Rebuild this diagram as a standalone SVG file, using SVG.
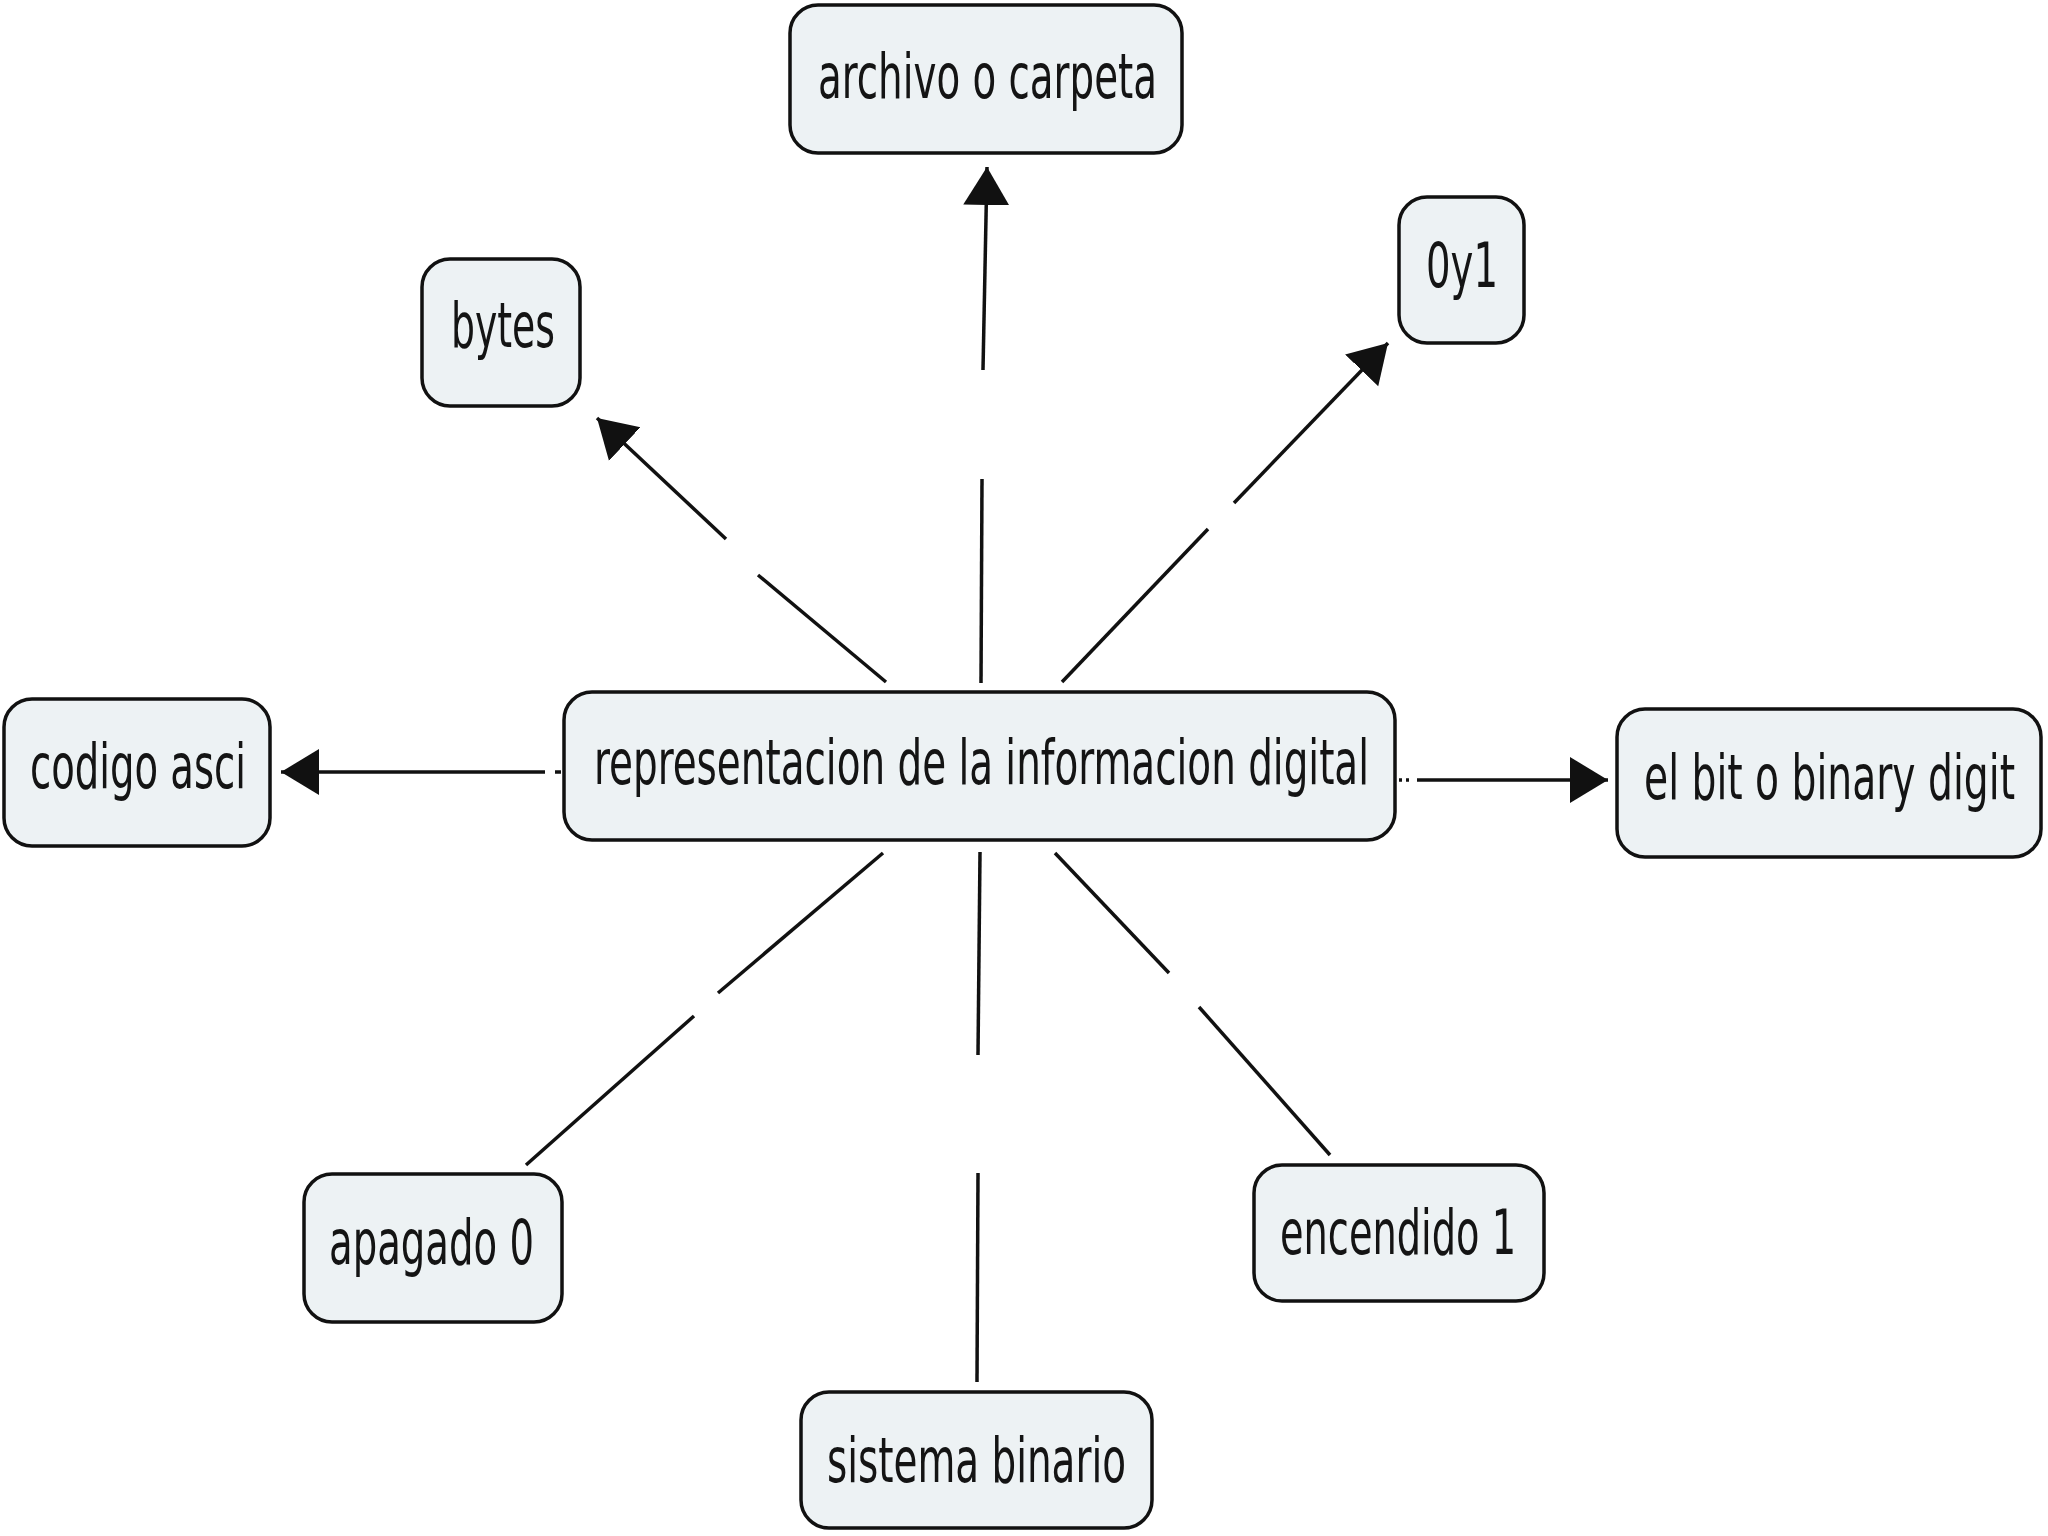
<svg xmlns="http://www.w3.org/2000/svg" width="2048" height="1536" viewBox="0 0 2048 1536">
<style>
.box{fill:#edf2f4;stroke:#111;stroke-width:3.5}
.lbl{font-family:"DejaVu Sans Condensed","DejaVu Sans",sans-serif;font-stretch:condensed;font-size:62px;fill:#141414;text-anchor:start}
.ln{stroke:#111;stroke-width:3.5;fill:none}
</style>
<defs>
<marker id="ah" markerUnits="userSpaceOnUse" markerWidth="40" markerHeight="50" viewBox="0 0 40 50" refX="38" refY="25" orient="auto">
<path d="M0,2 L38,25 L0,48 Z" fill="#111"/>
</marker>
</defs>
<rect width="2048" height="1536" fill="#fff"/>
<g id="connectors">
<path class="ln" d="M981,683 L982,479"/>
<path class="ln" d="M983,370 L987,167" marker-end="url(#ah)"/>
<path class="ln" d="M886,682 L758,575"/>
<path class="ln" d="M726,539 L597,418" marker-end="url(#ah)"/>
<path class="ln" d="M1062,682 L1208,529"/>
<path class="ln" d="M1234,503 L1388,343" marker-end="url(#ah)"/>
<path class="ln" d="M555,772 L561,772"/>
<path class="ln" d="M545,772 L281,772" marker-end="url(#ah)"/>
<path class="ln" d="M1399,780 L1402,780 M1406,780 L1409,780"/>
<path class="ln" d="M1417,780 L1608,780" marker-end="url(#ah)"/>
<path class="ln" d="M883,853 L718,993"/>
<path class="ln" d="M694,1016 L526,1165"/>
<path class="ln" d="M980,852 L978,1055"/>
<path class="ln" d="M978,1173 L977,1382"/>
<path class="ln" d="M1055,853 L1169,973"/>
<path class="ln" d="M1199,1007 L1330,1155"/>
</g>
<g id="n-center">
<rect class="box" x="564" y="692" width="831" height="148" rx="28"/>
<text class="lbl" x="594" y="784" textLength="775" lengthAdjust="spacingAndGlyphs">representacion de la informacion digital</text>
</g>
<g id="n-archivo">
<rect class="box" x="790" y="5" width="392" height="148" rx="28"/>
<text class="lbl" x="818" y="98" textLength="339" lengthAdjust="spacingAndGlyphs">archivo o carpeta</text>
</g>
<g id="n-bytes">
<rect class="box" x="422" y="259" width="158" height="147" rx="28"/>
<text class="lbl" x="451" y="347" textLength="104" lengthAdjust="spacingAndGlyphs">bytes</text>
</g>
<g id="n-0y1">
<rect class="box" x="1399" y="197" width="125" height="146" rx="28"/>
<text class="lbl" x="1426" y="287" textLength="72" lengthAdjust="spacingAndGlyphs">0y1</text>
</g>
<g id="n-codigo">
<rect class="box" x="4" y="699" width="266" height="147" rx="28"/>
<text class="lbl" x="30" y="788" textLength="216" lengthAdjust="spacingAndGlyphs">codigo asci</text>
</g>
<g id="n-bit">
<rect class="box" x="1617" y="709" width="424" height="148" rx="28"/>
<text class="lbl" x="1644" y="799" textLength="371" lengthAdjust="spacingAndGlyphs">el bit o binary digit</text>
</g>
<g id="n-apagado">
<rect class="box" x="304" y="1174" width="258" height="148" rx="28"/>
<text class="lbl" x="329" y="1264" textLength="205" lengthAdjust="spacingAndGlyphs">apagado 0</text>
</g>
<g id="n-encendido">
<rect class="box" x="1254" y="1165" width="290" height="136" rx="28"/>
<text class="lbl" x="1280" y="1254" textLength="236" lengthAdjust="spacingAndGlyphs">encendido 1</text>
</g>
<g id="n-sistema">
<rect class="box" x="801" y="1392" width="351" height="136" rx="28"/>
<text class="lbl" x="827" y="1482" textLength="299" lengthAdjust="spacingAndGlyphs">sistema binario</text>
</g>
</svg>
